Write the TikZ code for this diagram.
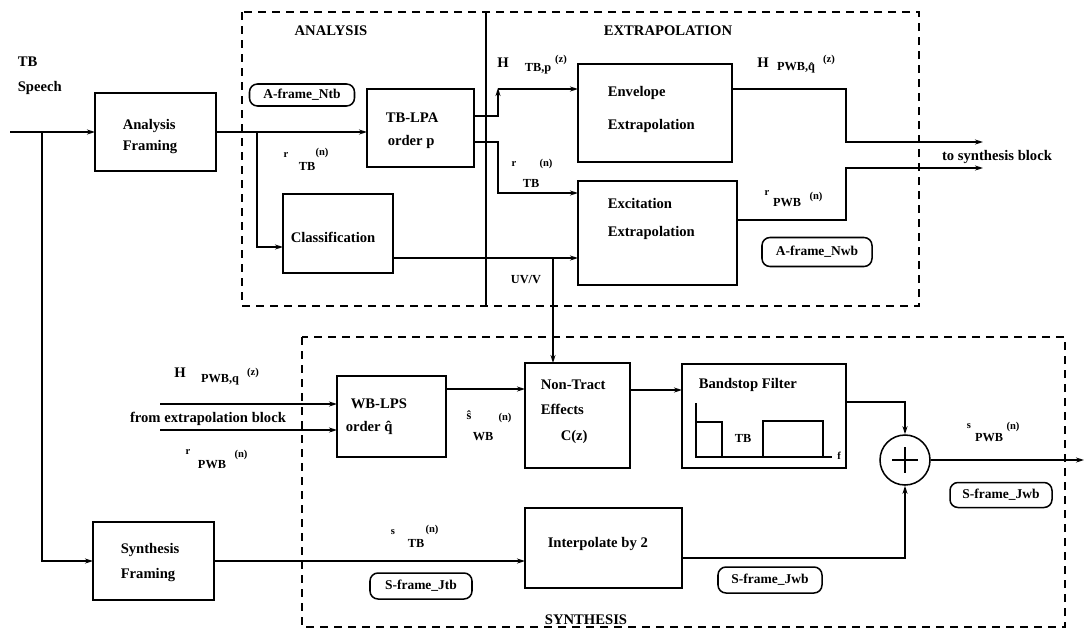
\documentclass[tikz,border=0pt]{standalone}
\usepackage{fontspec}
\setmainfont{Liberation Serif}
\usetikzlibrary{arrows.meta}
\begin{document}
\begin{tikzpicture}[x=0.3mm,y=-0.3mm,
  line width=1.3pt,
  >={Stealth[length=2.4mm,width=1.5mm]},
  blk/.style 2 args={draw, minimum width=#1*0.3mm, minimum height=#2*0.3mm,
    inner sep=0pt, outer sep=0pt, anchor=north west},
  tag/.style 2 args={draw, rounded corners=2.4mm, minimum width=#1*0.3mm,
    minimum height=#2*0.3mm, inner sep=0pt, font=\fontsize{11.5}{13}\selectfont\bfseries},
  txt/.style={inner sep=0pt, font=\fontsize{12.5}{14}\selectfont\bfseries},
  ltxt/.style={txt, anchor=west},
  sub/.style={inner sep=0pt, font=\fontsize{10.5}{12}\selectfont\bfseries},
  tiny/.style={inner sep=0pt, font=\fontsize{9}{10}\selectfont\bfseries},
  frame/.style={draw, dash pattern=on 2.4mm off 1.8mm, line width=1.2pt},
]
\useasboundingbox (0,0) rectangle (1087,633);

% ---- dashed section frames ----
\draw[frame] (242,12) rectangle (919,306);
\draw (486,12) -- (486,306);
\draw[frame] (302,337) rectangle (1065,627);

\node[txt] (tANA) at (331,31) {ANALYSIS};
\node[txt] (tEXT) at (668,31) {EXTRAPOLATION};
\node[txt] (tSYN) at (586,620) {SYNTHESIS};

% ---- input ----
\node[ltxt] (tTB) at (17,62) {TB};
\node[ltxt] (tSp) at (17,88) {Speech};

% ---- blocks ----
\node[blk={121}{78}] (AF) at (95,93) {};
\node[ltxt] (AF1) at (122,126) {Analysis};
\node[ltxt] (AF2) at (122,147) {Framing};

\node[blk={107}{78}] (LPA) at (367,89) {};
\node[ltxt] (LPA1) at (385,118) {TB-LPA};
\node[ltxt] (LPA2) at (387,142) {order p};

\node[blk={110}{79}] (CL) at (283,194) {};
\node[ltxt] (CL1) at (290,237) {Classification};

\node[blk={154}{98}] (ENV) at (578,64) {};
\node[ltxt] (ENV1) at (607,93) {Envelope};
\node[ltxt] (ENV2) at (607,126) {Extrapolation};

\node[blk={159}{104}] (EXC) at (578,181) {};
\node[ltxt] (EXC1) at (607,203) {Excitation};
\node[ltxt] (EXC2) at (607,233) {Extrapolation};

\node[blk={109}{81}] (WB) at (337,376) {};
\node[ltxt] (WB1) at (350,404) {WB-LPS};
\node[ltxt] (WB2) at (345,428) {order q̂};

\node[blk={105}{105}] (NT) at (525,363) {};
\node[ltxt] (NT1) at (540,385) {Non-Tract};
\node[ltxt] (NT2) at (540,409) {Effects};
\node[ltxt] (NT3) at (560,437) {C(z)};

\node[blk={164}{104}] (BS) at (682,364) {};
\node[ltxt] (BS1) at (698,385) {Bandstop Filter};
\draw[line width=1pt] (696,403) -- (696,457) -- (832,457);
\draw[line width=1pt] (696,422) -- (722,422) -- (722,457);
\draw[line width=1pt] (763,457) -- (763,421) -- (823,421) -- (823,457);
\node[sub] (BSt) at (743,438) {TB};
\node[tiny] (BSf) at (839,456) {f};

\node[blk={157}{80}] (IP) at (525,508) {};
\node[ltxt] (IP1) at (547,544) {Interpolate by 2};

\node[blk={121}{78}] (SF) at (93,522) {};
\node[ltxt] (SF1) at (120,550) {Synthesis};
\node[ltxt] (SF2) at (120,575) {Framing};

\node[draw, circle, minimum size=50*0.3mm, inner sep=0pt] (SUM) at (905,460) {};
\draw (SUM.center) ++(-13,0) -- ++(26,0);
\draw (SUM.center) ++(0,-13) -- ++(0,26);

% ---- frame tags ----
\node[tag={105}{22}] (fA1) at (302,95) {A-frame\_Ntb};
\node[tag={110}{29}] (fA2) at (817,252) {A-frame\_Nwb};
\node[tag={102}{26}] (fS1) at (421,586) {S-frame\_Jtb};
\node[tag={102}{25}] (fS2) at (1001,495) {S-frame\_Jwb};
\node[tag={104}{26}] (fS3) at (770,580) {S-frame\_Jwb};

% ---- signal labels ----
\node[tiny] (l1a) at (286,155) {r};
\node[sub]  (l1b) at (307,166) {TB};
\node[tiny] (l1c) at (322,153) {(n)};

\node[txt]  (l2a) at (503,63) {H};
\node[sub]  (l2b) at (538,69) {TB,p};
\node[tiny] (l2c) at (561,60) {(z)};

\node[tiny] (l3a) at (514,164) {r};
\node[tiny] (l3b) at (546,164) {(n)};
\node[sub]  (l3c) at (531,183) {TB};

\node[txt]  (l4a) at (763,63) {H};
\node[sub]  (l4b) at (796,68) {PWB,q̂};
\node[tiny] (l4c) at (829,60) {(z)};

\node[tiny] (l5a) at (767,193) {r};
\node[sub]  (l5b) at (787,203) {PWB};
\node[tiny] (l5c) at (816,197) {(n)};

\node[txt] (l6) at (997,157) {to synthesis block};
\node[sub] (l7) at (526,280) {UV/V};

\node[txt]  (l8a) at (180,373) {H};
\node[sub]  (l8b) at (220,380) {PWB,q};
\node[tiny] (l8c) at (253,373) {(z)};

\node[txt] (l9) at (208,419) {from extrapolation block};

\node[tiny] (l10a) at (188,452) {r};
\node[sub]  (l10b) at (212,465) {PWB};
\node[tiny] (l10c) at (241,455) {(n)};

\node[sub]  (l11a) at (469,415) {ŝ};
\node[tiny] (l11b) at (505,418) {(n)};
\node[sub]  (l11c) at (483,437) {WB};

\node[tiny] (l12a) at (393,532) {s};
\node[tiny] (l12b) at (432,530) {(n)};
\node[sub]  (l12c) at (416,543) {TB};

\node[tiny] (l13a) at (969,426) {s};
\node[sub]  (l13b) at (989,438) {PWB};
\node[tiny] (l13c) at (1013,427) {(n)};

% ---- connectors ----
\coordinate (IN) at (10,132);
\coordinate (B1) at (42,132);
\coordinate (B2) at (257,132);
\draw[->] (IN) -- (IN -| AF.west);
\draw[->] (B1) |- (SF.west);
\draw[->] (AF.east) -- (AF.east -| LPA.west);
\draw[->] (B2) |- (CL.west |- 0,247);

\draw[->] (LPA.east |- 0,116) -- (498,116) -- (498,88);
\draw[->] (498,89) -- (ENV.west |- 0,89);
\draw[->] (LPA.east |- 0,142) -| (498,193) -- (EXC.west |- 0,193);

\coordinate (UV) at (553,258);
\draw[->] (CL.east |- UV) -- (EXC.west |- UV);
\draw[->] (UV) -- (UV |- NT.north);

\coordinate (OUT1) at (983,142);
\coordinate (OUT2) at (983,168);
\draw[->] (ENV.east |- 0,89) -| (846,142) -- (OUT1);
\draw[->] (EXC.east |- 0,220) -| (846,168) -- (OUT2);

\coordinate (I1) at (160,404);
\coordinate (I2) at (160,430);
\draw[->] (I1) -- (I1 -| WB.west);
\draw[->] (I2) -- (I2 -| WB.west);
\draw[->] (WB.east |- 0,389) -- (NT.west |- 0,389);
\draw[->] (NT.east |- 0,390) -- (BS.west |- 0,390);
\draw[->] (BS.east |- 0,402) -| (SUM.north);
\draw[->] (SF.east) -- (SF.east -| IP.west);
\draw[->] (IP.east |- 0,558) -| (SUM.south);
\coordinate (OUT) at (1084,460);
\draw[->] (SUM.east) -- (OUT);
\end{tikzpicture}
\end{document}
